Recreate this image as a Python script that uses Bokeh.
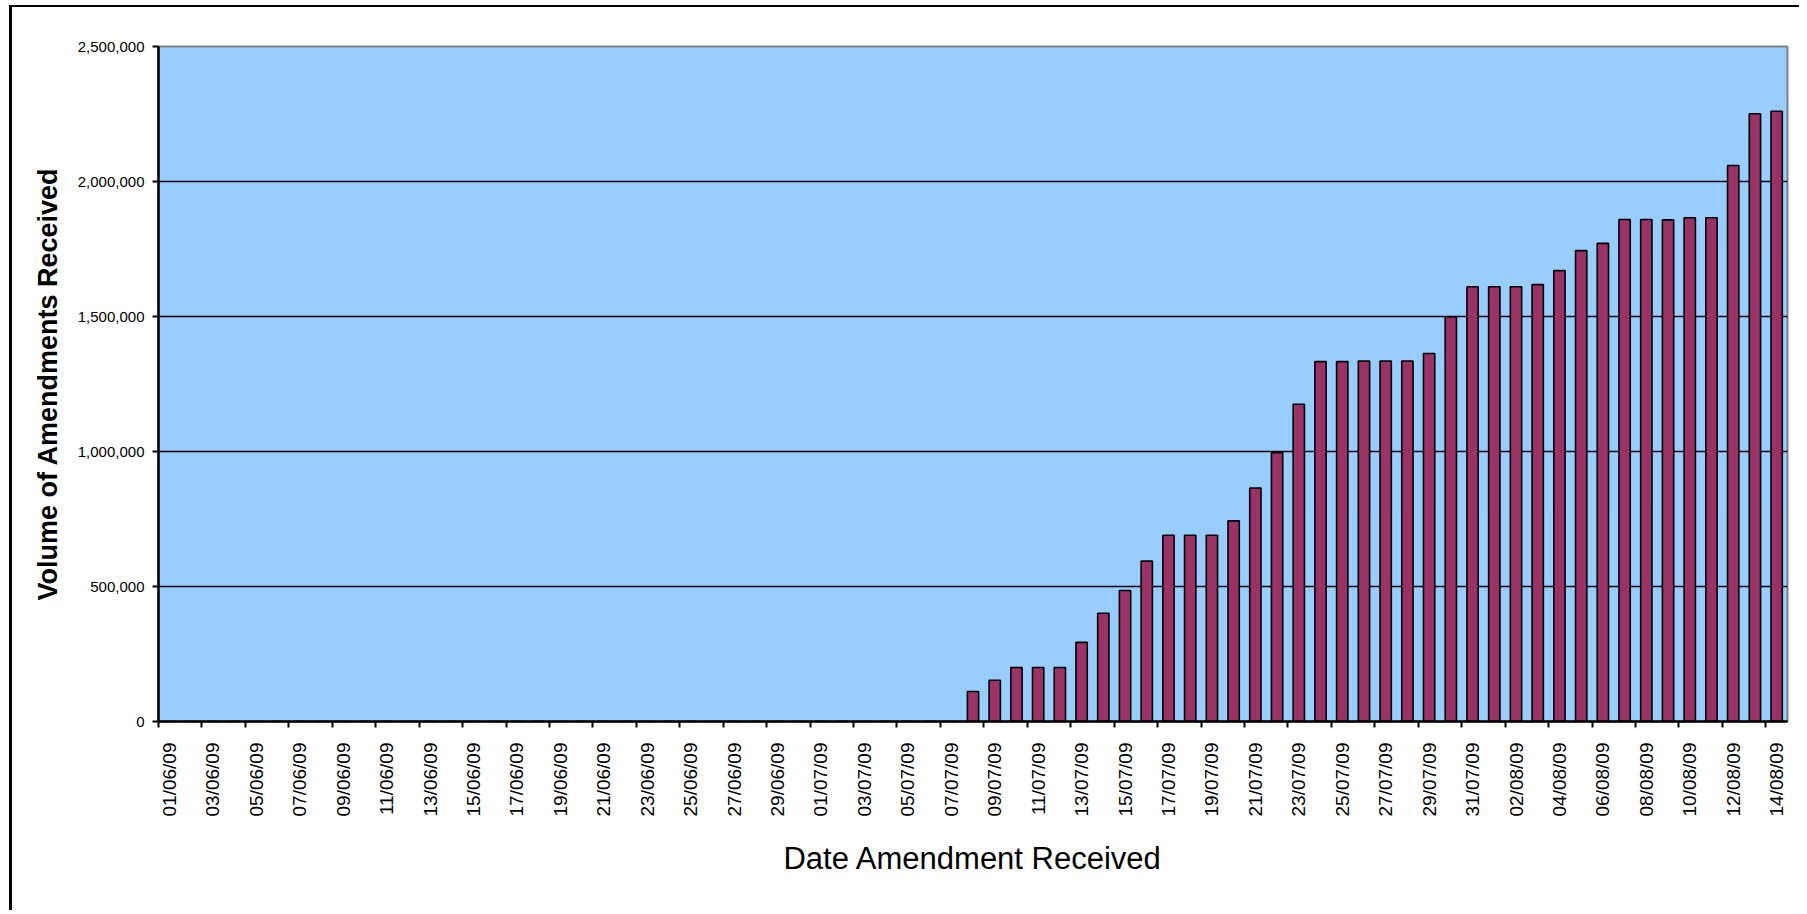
import numpy as np
from bokeh.plotting import figure
from bokeh.models import Range1d, FixedTicker, NumeralTickFormatter, ColumnDataSource
from bokeh.embed import file_html
from bokeh.resources import INLINE

# ---- data -------------------------------------------------------------
june = [f"{d:02d}/06/09" for d in range(1, 31)]
july = [f"{d:02d}/07/09" for d in range(1, 32)]
august = [f"{d:02d}/08/09" for d in range(1, 15)]
dates = june + july + august

# cumulative volume of amendments received (0 before 08/07/09)
zeros_before = [0] * 37   # 01/06/09 .. 07/07/09
july_values = [111000, 153000, 200000, 200000, 200000, 293000, 401000, 485000,
               594000, 690000, 690000, 690000, 743000, 865000, 996000, 1175000,
               1333000, 1333000, 1335000, 1335000, 1335000, 1363000, 1499000, 1610000]
august_values = [1610000, 1610000, 1618000, 1670000, 1744000, 1771000, 1859000,
                 1859000, 1858000, 1866000, 1866000, 2059000, 2251000, 2260000]
volumes = zeros_before + july_values + august_values

y_ticks = [0, 500000, 1000000, 1500000, 2000000, 2500000]
y_title = "Volume of Amendments Received"
x_title = "Date Amendment Received"

# ---- figure ----------------------------------------------------------
n = len(dates)
idx = np.arange(n)
src = ColumnDataSource(dict(x=idx + 0.5, top=volumes, date=dates))

p = figure(width=1790, height=905, output_backend="svg", toolbar_location=None,
           x_range=Range1d(0, n), y_range=Range1d(0, 2500000),
           min_border_left=146, min_border_right=15, min_border_top=39,
           min_border_bottom=191)
p.styles = {"border-left": "3px solid black", "border-top": "2px solid black",
            "margin-left": "9px", "margin-top": "5px"}

p.background_fill_color = "#99CCFF"
p.border_fill_color = "white"
p.outline_line_color = "#808080"
p.outline_line_width = 2

p.vbar(x="x", top="top", width=0.52, source=src, fill_color="#993366",
       line_color="black", line_width=1.6)

# x axis: labels on every other day, ticks at category boundaries
label_pos = [float(i) + 0.5 for i in range(0, n, 2)]
p.xaxis.ticker = FixedTicker(ticks=label_pos, minor_ticks=list(range(0, n, 2)))
p.xaxis.major_label_overrides = {float(i) + 0.5: dates[i] for i in range(0, n, 2)}
p.xaxis.major_label_orientation = np.pi / 2
p.xaxis.major_tick_line_color = None
p.xaxis.minor_tick_line_color = "black"
p.xaxis.minor_tick_line_width = 2
p.xaxis.minor_tick_out = 6
p.xaxis.minor_tick_in = 0
p.xaxis.major_label_standoff = 15
p.xaxis.major_label_text_font = "Liberation Sans"
p.xaxis.major_label_text_font_size = "19px"
p.xaxis.major_label_text_color = "black"
p.xaxis.axis_label = x_title
p.xaxis.axis_label_text_font = "Liberation Sans"
p.xaxis.axis_label_text_font_size = "31px"
p.xaxis.axis_label_text_font_style = "normal"
p.xaxis.axis_label_text_color = "black"
p.xaxis.axis_label_standoff = 22
p.xaxis.axis_line_width = 2.5
p.xaxis.axis_line_color = "black"

# y axis
p.yaxis.ticker = FixedTicker(ticks=y_ticks)
p.yaxis.formatter = NumeralTickFormatter(format="0,0")
p.yaxis.major_tick_out = 6
p.yaxis.major_tick_in = 0
p.yaxis.major_tick_line_width = 2
p.yaxis.minor_tick_line_color = None
p.yaxis.major_label_standoff = 8
p.yaxis.major_label_text_font = "Liberation Sans"
p.yaxis.major_label_text_font_size = "15px"
p.yaxis.major_label_text_color = "black"
p.yaxis.axis_label = y_title
p.yaxis.axis_label_text_font = "Liberation Sans"
p.yaxis.axis_label_text_font_size = "27px"
p.yaxis.axis_label_text_font_style = "bold"
p.yaxis.axis_label_text_color = "black"
p.yaxis.axis_label_standoff = 12
p.yaxis.axis_line_width = 2.5
p.yaxis.axis_line_color = "black"

# grid
p.xgrid.grid_line_color = None
p.ygrid.ticker = FixedTicker(ticks=y_ticks[1:-1])
p.ygrid.grid_line_color = "black"
p.ygrid.grid_line_width = 1.5

open("out.html", "w").write(file_html(p, INLINE))
